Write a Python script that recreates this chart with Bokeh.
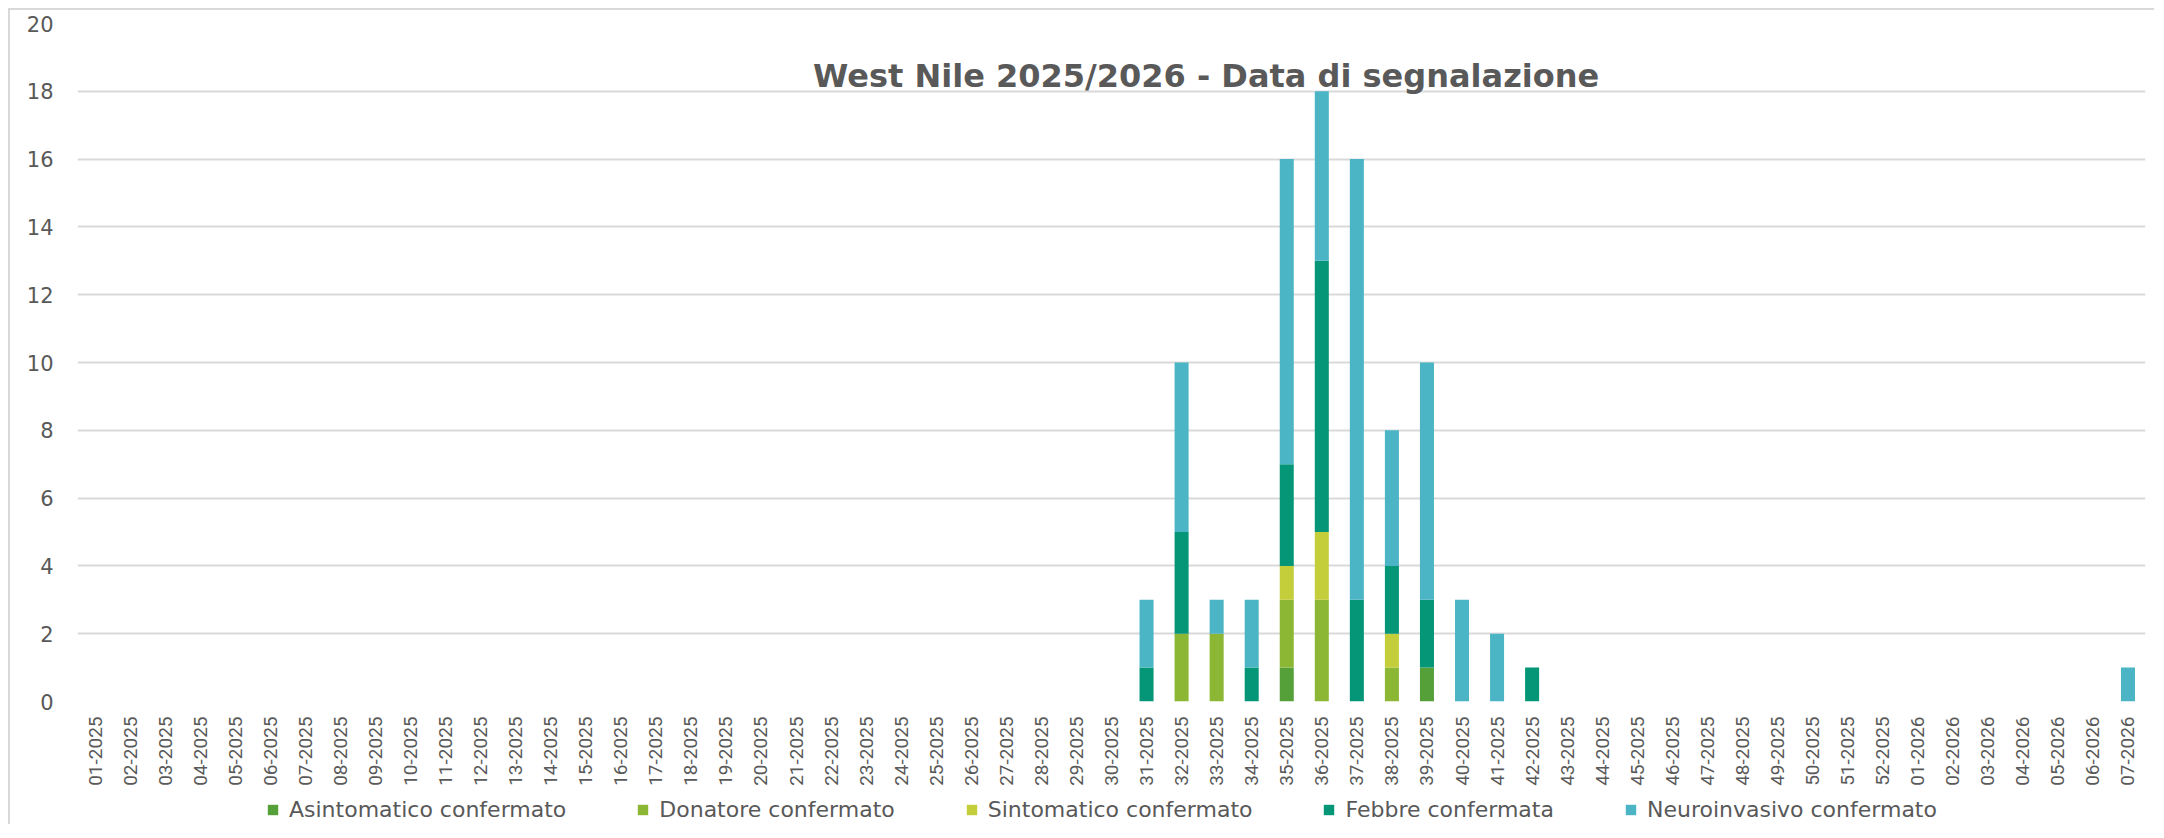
import math
from bokeh.plotting import figure
from bokeh.layouts import column
from bokeh.models import ColumnDataSource, Range1d, FactorRange, Legend, LegendItem, Label
from bokeh.embed import file_html
from bokeh.resources import INLINE

# Categories: ISO week-year labels
weeks = [f"{i:02d}-2025" for i in range(1, 53)] + [f"{i:02d}-2026" for i in range(1, 8)]

# Weeks with reported cases (all others are zero)
active_weeks = ["31-2025", "32-2025", "33-2025", "34-2025", "35-2025", "36-2025", "37-2025",
                "38-2025", "39-2025", "40-2025", "41-2025", "42-2025", "07-2026"]
asintomatico = [0, 0, 0, 0, 1, 0, 0, 0, 1, 0, 0, 0, 0]
donatore     = [0, 2, 2, 0, 2, 3, 0, 1, 0, 0, 0, 0, 0]
sintomatico  = [0, 0, 0, 0, 1, 2, 0, 1, 0, 0, 0, 0, 0]
febbre       = [1, 3, 0, 1, 3, 8, 3, 2, 2, 0, 0, 1, 0]
neuro        = [2, 5, 1, 2, 9, 5, 13, 4, 7, 3, 2, 0, 1]

series_labels = ["Asintomatico confermato", "Donatore confermato", "Sintomatico confermato",
                 "Febbre confermata", "Neuroinvasivo confermato"]
series_keys = ["asintomatico", "donatore", "sintomatico", "febbre", "neuro"]
series_vals = [asintomatico, donatore, sintomatico, febbre, neuro]
colors = ["#56A03A", "#8CB735", "#C4CE3A", "#049677", "#4BB5C6"]

y_ticks = [0, 2, 4, 6, 8, 10, 12, 14, 16, 18, 20]
title_text = "West Nile 2025/2026 - Data di segnalazione"

data = {"week": weeks}
for key, vals in zip(series_keys, series_vals):
    lookup = dict(zip(active_weeks, vals))
    data[key] = [lookup.get(w, 0) for w in weeks]
src = ColumnDataSource(data)

TXT = "#595959"
BORDER = "2px solid #d9d9d9"

# ---- main chart ----
p = figure(x_range=FactorRange(*weeks, range_padding=0), y_range=Range1d(0, 20),
           width=2146, height=779, output_backend="svg", toolbar_location=None,
           min_border_left=67, min_border_right=11, min_border_top=13, min_border_bottom=88)
p.styles = {"border-left": BORDER, "border-top": BORDER,
            "margin-left": "8px", "margin-top": "8px"}
p.outline_line_color = None
p.background_fill_color = "white"
p.border_fill_color = "white"

renderers = p.vbar_stack(series_keys, x="week", width=0.4, color=colors, source=src,
                         line_color=None)

p.xgrid.grid_line_color = None
p.ygrid.grid_line_color = "#d9d9d9"
p.ygrid.grid_line_width = 2

p.yaxis.ticker = y_ticks
p.yaxis.axis_line_color = None
p.yaxis.major_tick_line_color = None
p.yaxis.minor_tick_line_color = None
p.yaxis.major_tick_out = 0
p.yaxis.major_label_standoff = 24
p.yaxis.major_label_text_font = "DejaVu Sans"
p.yaxis.major_label_text_font_size = "21px"
p.yaxis.major_label_text_color = TXT

p.xaxis.axis_line_color = None
p.xaxis.major_tick_line_color = None
p.xaxis.major_tick_out = 0
p.xaxis.major_label_standoff = 15
p.xaxis.major_label_orientation = math.pi / 2
p.xaxis.major_label_text_font = "Roboto"
p.xaxis.major_label_text_font_size = "19px"
p.xaxis.major_label_text_color = TXT

p.add_layout(Label(x=32.2, y=18.44, text=title_text, text_align="center", text_baseline="middle",
                   text_font="DejaVu Sans", text_font_style="bold", text_font_size="32px",
                   text_color=TXT))

# ---- legend strip below the chart ----
p2 = figure(width=2146, height=37, output_backend="svg", toolbar_location=None,
            x_range=Range1d(0, 1), y_range=Range1d(0, 1),
            x_axis_type=None, y_axis_type=None, min_border=0)
p2.styles = {"border-left": BORDER, "margin-left": "8px"}
p2.outline_line_color = None
p2.grid.visible = False
p2.background_fill_color = "white"
p2.border_fill_color = "white"

# legend swatches: one zero-height bar per series, only used for the legend glyphs
legend_src = ColumnDataSource(dict(x=[0.5], top=[0.0]))
legend_renderers = [p2.vbar(x="x", top="top", bottom=0, width=0.1, color=c, line_color=None,
                            source=legend_src) for c in colors]
legend = Legend(items=[LegendItem(label=l, renderers=[r])
                       for l, r in zip(series_labels, legend_renderers)],
                orientation="horizontal", location=(189, 2),
                glyph_width=13, glyph_height=13, label_standoff=10, spacing=70,
                padding=3, margin=0, border_line_color=None, background_fill_alpha=0,
                label_text_font="DejaVu Sans", label_text_font_size="22px",
                label_text_color=TXT)
p2.add_layout(legend, "center")

layout = column(p, p2, spacing=0)
open("out.html", "w").write(file_html(layout, INLINE))
